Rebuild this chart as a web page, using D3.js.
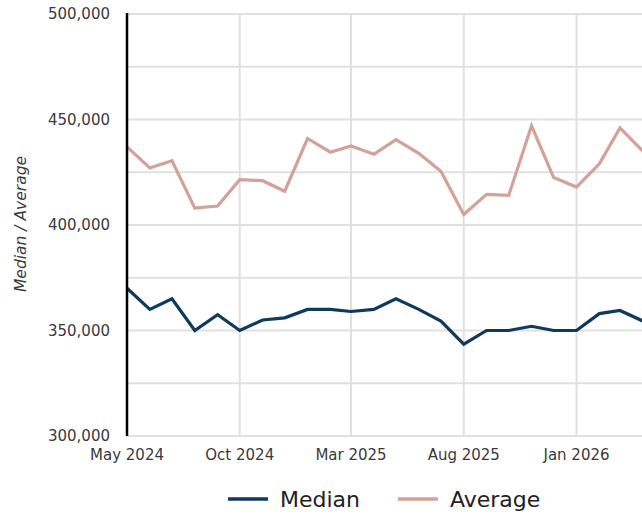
<!DOCTYPE html>
<html>
<head>
<meta charset="utf-8">
<script src="https://cdn.jsdelivr.net/npm/d3@7"></script>
<style>
  html, body { margin: 0; padding: 0; background: #fff; overflow: hidden; }
  svg { display: block; }
  text { font-family: "DejaVu Sans", sans-serif; }
</style>
</head>
<body>
<svg id="chart" width="642" height="518"></svg>
<script>
const months = ["2024-05","2024-06","2024-07","2024-08","2024-09","2024-10","2024-11","2024-12",
  "2025-01","2025-02","2025-03","2025-04","2025-05","2025-06","2025-07","2025-08","2025-09","2025-10",
  "2025-11","2025-12","2026-01","2026-02","2026-03","2026-04"];
const median = [370000,360000,365000,350000,357500,350000,355000,356000,360000,360000,359000,360000,
  365000,360000,354500,343500,350000,350000,352000,350000,350000,358000,359500,354500];
const average = [437000,427000,430500,408000,409000,421500,421000,416000,441000,434500,437500,433500,
  440500,434000,425500,405000,414500,414000,447000,422500,418000,429000,446000,435000];
const yTicks = [300000,350000,400000,450000,500000];
const yGrid = [300000,325000,350000,375000,400000,425000,450000,475000,500000];
const xTickMonths = ["2024-05","2024-10","2025-03","2025-08","2026-01"];
const seriesNames = ["Median","Average"];
const colors = ["#0f3a5e","#d4a198"];

const parse = d3.timeParse("%Y-%m");
const dates = months.map(parse);
const svg = d3.select("#chart");
const mLeft = 127, mTop = 14, mBottom = 436;
// plot extends beyond the window on the right (cropped)
const x = d3.scaleTime().domain([parse("2024-05"), parse("2026-01")]).range([mLeft, 576.5]);
const y = d3.scaleLinear().domain([300000, 500000]).range([mBottom, mTop]);

// horizontal grid
svg.append("g").selectAll("line").data(yGrid).join("line")
  .attr("x1", mLeft).attr("x2", 700)
  .attr("y1", d => y(d)).attr("y2", d => y(d))
  .attr("stroke", "#e0e0e0").attr("stroke-width", 2);
// vertical grid
const xt = xTickMonths.map(parse);
svg.append("g").selectAll("line").data(xt).join("line")
  .attr("x1", d => x(d)).attr("x2", d => x(d))
  .attr("y1", mTop).attr("y2", mBottom)
  .attr("stroke", "#e0e0e0").attr("stroke-width", 2);

// y labels
svg.append("g").selectAll("text").data(yTicks).join("text")
  .attr("x", 110).attr("y", d => y(d)).attr("dy", "0.35em")
  .attr("text-anchor", "end").attr("font-size", 15).attr("fill", "#3a3a3a")
  .text(d => d3.format(",")(d));
// x labels
const fmt = d3.timeFormat("%b %Y");
svg.append("g").selectAll("text").data(xt).join("text")
  .attr("x", d => x(d)).attr("y", 460)
  .attr("text-anchor", "middle").attr("font-size", 15).attr("fill", "#3a3a3a")
  .text(d => fmt(d));
// y title
svg.append("text")
  .attr("transform", "translate(26,224) rotate(-90)")
  .attr("text-anchor", "middle").attr("font-size", 15.5).attr("font-style", "italic")
  .attr("fill", "#3a3a3a").text("Median / Average");

// lines
const line = d3.line().x((d, i) => x(dates[i])).y(d => y(d));
[median, average].forEach((vals, k) => {
  svg.append("path").datum(vals)
    .attr("d", line).attr("fill", "none")
    .attr("stroke", colors[k]).attr("stroke-width", 3.2)
    .attr("stroke-linejoin", "miter");
});

// y axis line
svg.append("line").attr("x1", mLeft).attr("x2", mLeft)
  .attr("y1", mTop - 1).attr("y2", mBottom)
  .attr("stroke", "#000").attr("stroke-width", 2.5);

// legend
const legendX = [228, 398];
seriesNames.forEach((n, k) => {
  svg.append("line").attr("x1", legendX[k]).attr("x2", legendX[k] + 40)
    .attr("y1", 499).attr("y2", 499)
    .attr("stroke", colors[k]).attr("stroke-width", 3.5);
  svg.append("text").attr("x", legendX[k] + 52).attr("y", 499).attr("dy", "0.35em")
    .attr("font-size", 22).attr("fill", "#222").text(n);
});
</script>
</body>
</html>
